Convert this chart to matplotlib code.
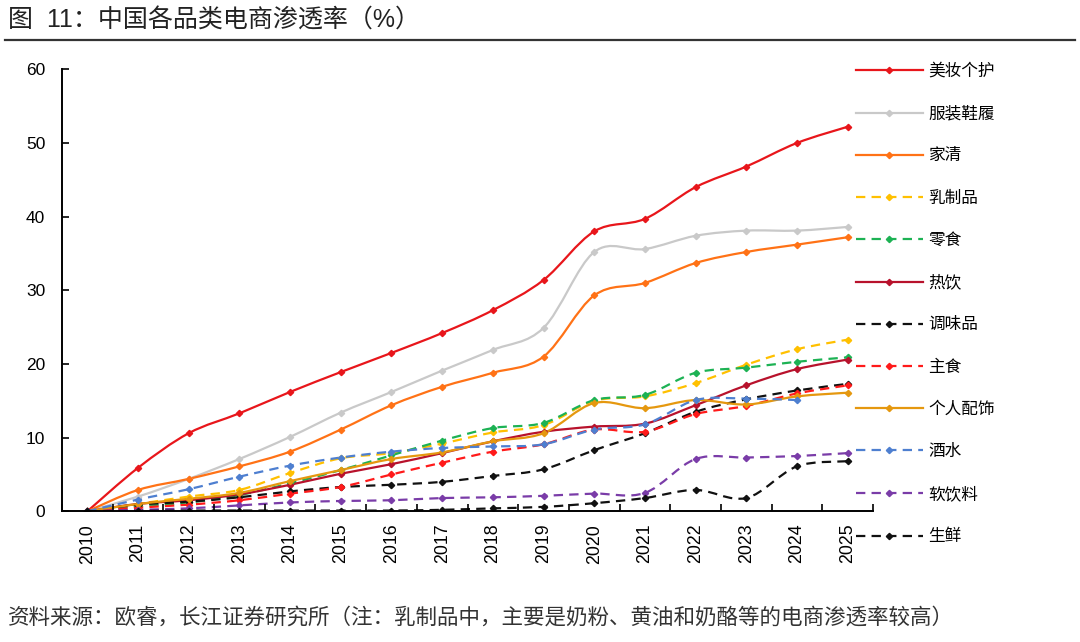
import numpy as np
import matplotlib
matplotlib.use("Agg")
import matplotlib.pyplot as plt
from matplotlib.path import Path
from matplotlib.patches import PathPatch
from matplotlib.lines import Line2D

plt.rcParams['font.family'] = ['Liberation Sans', 'Noto Sans CJK SC', 'DejaVu Sans']

years = [str(y) for y in range(2010, 2026)]
nan = np.nan

beauty      = [0, 5.9, 10.6, 13.3, 16.2, 18.9, 21.5, 24.2, 27.3, 31.4, 38.0, 39.7, 44.0, 46.8, 50.0, 52.2]
apparel     = [0, 2.0, 4.4, 7.1, 10.1, 13.4, 16.2, 19.1, 21.9, 24.9, 35.2, 35.6, 37.4, 38.1, 38.1, 38.6]
household   = [0, 2.9, 4.4, 6.1, 8.1, 11.1, 14.4, 16.9, 18.8, 21.0, 29.3, 31.0, 33.7, 35.2, 36.2, 37.2]
dairy       = [0, 1.0, 2.0, 2.9, 5.2, 7.2, 7.9, 9.2, 10.7, 11.7, 15.0, 15.6, 17.4, 19.9, 22.0, 23.3]
snacks      = [0, 0.7, 1.2, 2.2, 3.8, 5.6, 7.6, 9.6, 11.3, 12.0, 15.1, 15.8, 18.8, 19.5, 20.3, 20.9]
hot_drinks  = [0, 1.0, 1.5, 2.3, 3.6, 5.1, 6.4, 7.9, 9.5, 10.8, 11.5, 11.9, 14.4, 17.1, 19.3, 20.6]
condiments  = [0, 0.9, 1.3, 1.9, 2.7, 3.3, 3.6, 4.0, 4.8, 5.7, 8.3, 10.6, 13.5, 15.2, 16.4, 17.3]
staples     = [0, 0.5, 0.9, 1.5, 2.4, 3.3, 5.0, 6.6, 8.1, 9.1, 11.1, 10.8, 13.2, 14.3, 16.0, 17.1]
accessories = [0, 1.0, 1.7, 2.5, 4.1, 5.6, 7.1, 8.0, 9.5, 10.6, 14.7, 14.0, 15.1, 14.5, 15.6, 16.1]
liquor      = [0, 1.6, 3.0, 4.7, 6.2, 7.3, 8.1, 8.6, 8.8, 9.1, 11.1, 11.8, 15.1, 15.3, 15.1, nan]
soft_drinks = [0, 0.2, 0.4, 0.8, 1.2, 1.4, 1.5, 1.8, 1.9, 2.1, 2.4, 2.5, 7.1, 7.3, 7.5, 7.9]
fresh       = [0, 0.05, 0.1, 0.1, 0.1, 0.1, 0.1, 0.2, 0.4, 0.6, 1.1, 1.8, 2.9, 1.8, 6.1, 6.8]

names = ['美妆个护', '服装鞋履', '家清', '乳制品', '零食', '热饮', '调味品', '主食',
         '个人配饰', '酒水', '软饮料', '生鲜']
series = [beauty, apparel, household, dairy, snacks, hot_drinks, condiments, staples,
          accessories, liquor, soft_drinks, fresh]
colors = ['#E8161B', '#C9C9C9', '#FF7216', '#FFC000', '#1DB254', '#B8122C', '#111111',
          '#FF1A1A', '#E5980F', '#4E7FD0', '#7A3CA8', '#111111']
styles = ['solid', 'solid', 'solid', 'dashed', 'dashed', 'solid', 'dashed', 'dashed',
          'solid', 'dashed', 'dashed', 'dashed']

W, H = 1080, 642
fig = plt.figure(figsize=(W / 100, H / 100), dpi=100)
ax = fig.add_axes([62 / W, 1 - 511.3 / H, (873 - 62) / W, (511.3 - 69.3) / H])

DASH = (0, (4.2, 2.8))
LW = 1.6


def smooth_path(xs, ys):
    pts = np.column_stack([xs, ys])
    n = len(pts)
    verts = [pts[0]]
    codes = [Path.MOVETO]
    for i in range(n - 1):
        p0 = pts[i - 1] if i > 0 else pts[i]
        p1 = pts[i]
        p2 = pts[i + 1]
        p3 = pts[i + 2] if i + 2 < n else pts[i + 1]
        c1 = p1 + (p2 - p0) / 6.0
        c2 = p2 - (p3 - p1) / 6.0
        verts += [c1, c2, p2]
        codes += [Path.CURVE4] * 3
    return Path(verts, codes)


handles = []
for name, vals, c, st in zip(names, series, colors, styles):
    v = np.array(vals, dtype=float)
    x = np.arange(len(v), dtype=float)
    m = ~np.isnan(v)
    ls = DASH if st == 'dashed' else 'solid'
    patch = PathPatch(smooth_path(x[m], v[m]), fill=False, edgecolor=c, lw=LW,
                      linestyle=ls, capstyle='butt', joinstyle='round')
    ax.add_patch(patch)
    ax.plot(x[m], v[m], linestyle='none', marker='D', markersize=3.2, color=c)
    handles.append(Line2D([], [], color=c, lw=LW, linestyle=ls, marker='D',
                          markersize=3.2))

ax.set_xlim(-0.5, len(years) - 0.5)
ax.set_ylim(0, 60)
ax.set_yticks(range(0, 61, 10))
ax.tick_params(axis='y', direction='in', length=5, width=1.2, pad=12, labelsize=12.5)

ax.set_xticks(np.arange(-0.5, len(years), 1.0))
ax.set_xticklabels([])
ax.tick_params(axis='x', which='major', direction='in', length=5, width=1.2)
ax.set_xticks(np.arange(len(years)), minor=True)
ax.set_xticklabels(years, minor=True, rotation=90, fontsize=12.8)
ax.tick_params(axis='x', which='minor', length=0, pad=9)

for s in ['top', 'right']:
    ax.spines[s].set_visible(False)
for s in ['left', 'bottom']:
    ax.spines[s].set_linewidth(1.4)
    ax.spines[s].set_color('#000000')

fig.legend(handles, names, loc='upper left', bbox_to_anchor=(856 / W, 1 - 63 / H),
           frameon=False, fontsize=12, handlelength=4.0, handletextpad=0.35,
           labelspacing=1.62, borderpad=0, borderaxespad=0)

fig.text(8 / W, 1 - 21 / H, '图  11：中国各品类电商渗透率（%）', fontsize=18,
         va='center', ha='left', color='#222222')
fig.add_artist(Line2D([5 / W, 1075 / W], [1 - 39.5 / H, 1 - 39.5 / H], color='#333333', lw=1.6))
fig.text(8 / W, 1 - 618 / H, '资料来源：欧睿，长江证券研究所（注：乳制品中，主要是奶粉、黄油和奶酪等的电商渗透率较高）',
         fontsize=15.5, va='center', ha='left', color='#333333')

fig.savefig('out.png', dpi=100)
